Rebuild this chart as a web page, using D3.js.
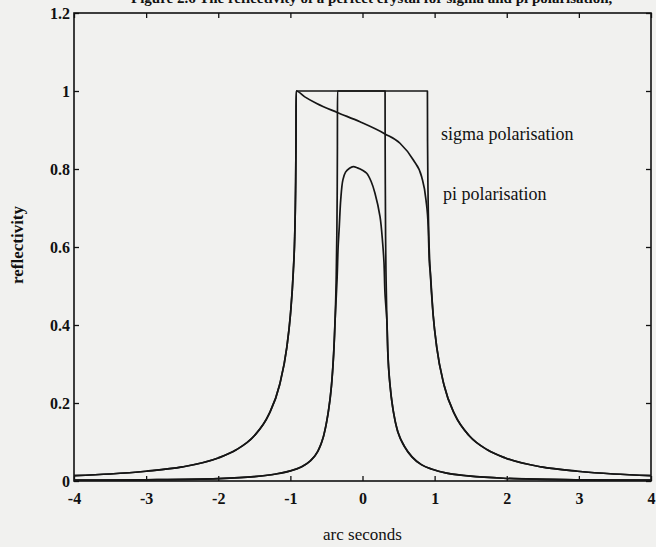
<!DOCTYPE html>
<html lang="en">
<head>
<meta charset="utf-8">
<title>Reflectivity curves</title>
<script src="https://d3js.org/d3.v7.min.js"></script>
<style>
	html, body { margin: 0; padding: 0; background: #f1f1ef; }
	svg { display: block; }
	.tick text { font-family: "Liberation Serif", "Times New Roman", serif; font-size: 16px; font-weight: bold; fill: #111; }
	.tick line { stroke: #111; stroke-width: 1.3; }
	.lbl { font-family: "Liberation Serif", "Times New Roman", serif; fill: #111; }
</style>
</head>
<body>
<div id="chart"></div>
<script>
	// axis ticks
	var xTicks = [-4, -3, -2, -1, 0, 1, 2, 3, 4];
	var xTickLabels = ["-4", "-3", "-2", "-1", "0", "1", "2", "3", "4"];
	var yTicks = [0, 0.2, 0.4, 0.6, 0.8, 1, 1.2];
	var yTickLabels = ["0", "0.2", "0.4", "0.6", "0.8", "1", "1.2"];

	// sigma curve, no absorption: left tail up to the flat top, right tail down from it
	var sigmaLeft = [[-4, 0.014], [-3.5, 0.018], [-3, 0.025], [-2.5, 0.036], [-2, 0.059], [-1.75, 0.08],
		[-1.5, 0.116], [-1.3, 0.17], [-1.15, 0.246], [-1.05, 0.342], [-1, 0.425], [-0.96, 0.535],
		[-0.94, 0.626], [-0.928, 0.745], [-0.922, 0.87], [-0.92, 1]];
	var sigmaRight = [[0.9, 1], [0.902, 0.87], [0.908, 0.745], [0.92, 0.626], [0.94, 0.535], [0.98, 0.425],
		[1.03, 0.342], [1.13, 0.246], [1.28, 0.17], [1.48, 0.116], [1.73, 0.08], [1.98, 0.059],
		[2.48, 0.036], [2.98, 0.025], [3.48, 0.018], [4, 0.014]];
	// sigma curve with absorption, across the total reflection range
	var sigmaPlateau = [[-0.8, 0.985], [-0.635, 0.968], [-0.35, 0.945], [-0.035, 0.921], [0.312, 0.89],
		[0.52, 0.866], [0.705, 0.823], [0.82, 0.78], [0.88, 0.721], [0.911, 0.652], [0.925, 0.567]];

	// pi curve, no absorption
	var piLeft = [[-4, 0.002], [-3, 0.003], [-2, 0.006], [-1.5, 0.011], [-1.2, 0.018], [-1, 0.026],
		[-0.85, 0.036], [-0.72, 0.052], [-0.62, 0.076], [-0.54, 0.115], [-0.48, 0.17], [-0.43, 0.245],
		[-0.4, 0.326], [-0.38, 0.412], [-0.365, 0.517], [-0.356, 0.629], [-0.351, 0.733], [-0.348, 0.857],
		[-0.347, 1]];
	var piRight = [[0.313, 1], [0.314, 0.857], [0.317, 0.733], [0.32, 0.629], [0.327, 0.517], [0.338, 0.412],
		[0.352, 0.326], [0.38, 0.249], [0.43, 0.176], [0.49, 0.126], [0.58, 0.089], [0.686, 0.062],
		[0.816, 0.042], [0.966, 0.03], [1.166, 0.02], [1.465, 0.013], [1.953, 0.007], [2.966, 0.003], [4, 0.002]];
	// pi curve with absorption, the rounded peak, joining the tails at both sides
	var piDome = [[-0.352, 0.52], [-0.338, 0.6], [-0.322, 0.652], [-0.302, 0.721], [-0.272, 0.772],
		[-0.235, 0.792], [-0.18, 0.802], [-0.128, 0.806], [-0.07, 0.803], [0, 0.797], [0.058, 0.789],
		[0.12, 0.768], [0.173, 0.738], [0.243, 0.678], [0.28, 0.609], [0.298, 0.56], [0.312, 0.48]];

	var width = 656, height = 547;
	var margin = {top: 13, right: 5, bottom: 66, left: 74};

	var svg = d3.select("#chart").append("svg")
		.attr("width", width)
		.attr("height", height);

	var x = d3.scaleLinear().domain([-4, 4]).range([margin.left, width - margin.right]);
	var y = d3.scaleLinear().domain([0, 1.2]).range([height - margin.bottom, margin.top]);

	/** axes, ticks point into the plot on all four sides */
	svg.append("g")
		.attr("transform", "translate(0," + y(0) + ")")
		.call(d3.axisBottom(x).tickValues(xTicks).tickSize(-5).tickPadding(12)
			.tickFormat(function(d, i){ return xTickLabels[i]; }));
	svg.append("g")
		.attr("transform", "translate(0," + y(1.2) + ")")
		.call(d3.axisTop(x).tickValues(xTicks).tickSize(-5).tickFormat(""));
	svg.append("g")
		.attr("transform", "translate(" + x(-4) + ",0)")
		.call(d3.axisLeft(y).tickValues(yTicks).tickSize(-5).tickPadding(4)
			.tickFormat(function(d, i){ return yTickLabels[i]; }));
	svg.append("g")
		.attr("transform", "translate(" + x(4) + ",0)")
		.call(d3.axisRight(y).tickValues(yTicks).tickSize(-5).tickFormat(""));
	svg.selectAll(".domain").remove();

	svg.append("rect")
		.attr("x", x(-4)).attr("y", y(1.2))
		.attr("width", x(4) - x(-4)).attr("height", y(0) - y(1.2))
		.attr("fill", "none").attr("stroke", "#111").attr("stroke-width", 1.6);

	/** curves */
	var line = d3.line()
		.x(function(d){ return x(d[0]); })
		.y(function(d){ return y(d[1]); })
		.curve(d3.curveMonotoneX);
	var smooth = d3.line()
		.x(function(d){ return x(d[0]); })
		.y(function(d){ return y(d[1]); })
		.curve(d3.curveCatmullRom.alpha(0.5));

	var sigmaDarwin = sigmaLeft.concat(sigmaRight);
	var sigmaAbs = sigmaLeft.concat(sigmaPlateau, sigmaRight.filter(function(p){ return p[0] >= 0.94; }));
	var piDarwin = piLeft.concat(piRight);
	var piAbs = piLeft.filter(function(p){ return p[0] <= -0.38; })
		.concat(piDome, piRight.filter(function(p){ return p[0] >= 0.338; }));

	var curves = [
		{pts: sigmaDarwin, gen: line},
		{pts: sigmaAbs, gen: line},
		{pts: piDarwin, gen: line},
		{pts: piAbs, gen: smooth}
	];

	svg.selectAll(".curve")
		.data(curves)
		.enter()
		.append("path")
		.attr("class", "curve")
		.attr("d", function(c){ return c.gen(c.pts); })
		.attr("fill", "none")
		.attr("stroke", "#161616")
		.attr("stroke-width", 1.7)
		.attr("stroke-linejoin", "round");

	/** labels */
	svg.append("text").attr("class", "lbl")
		.attr("x", 441).attr("y", 140)
		.attr("font-size", 18)
		.text("sigma polarisation");
	svg.append("text").attr("class", "lbl")
		.attr("x", 443).attr("y", 200)
		.attr("font-size", 18)
		.text("pi polarisation");

	svg.append("text").attr("class", "lbl")
		.attr("x", x(0)).attr("y", 540)
		.attr("text-anchor", "middle")
		.attr("font-size", 17)
		.text("arc seconds");

	svg.append("text").attr("class", "lbl")
		.attr("transform", "translate(23,245) rotate(-90)")
		.attr("text-anchor", "middle")
		.attr("font-size", 17)
		.attr("font-weight", "bold")
		.text("reflectivity");

	// caption of the figure, cut off by the top edge
	svg.append("text").attr("class", "lbl")
		.attr("x", 131).attr("y", 3)
		.attr("font-size", 15)
		.attr("font-weight", "bold")
		.text("Figure 2.6 The reflectivity of a perfect crystal for sigma and pi polarisation,");
</script>
</body>
</html>
